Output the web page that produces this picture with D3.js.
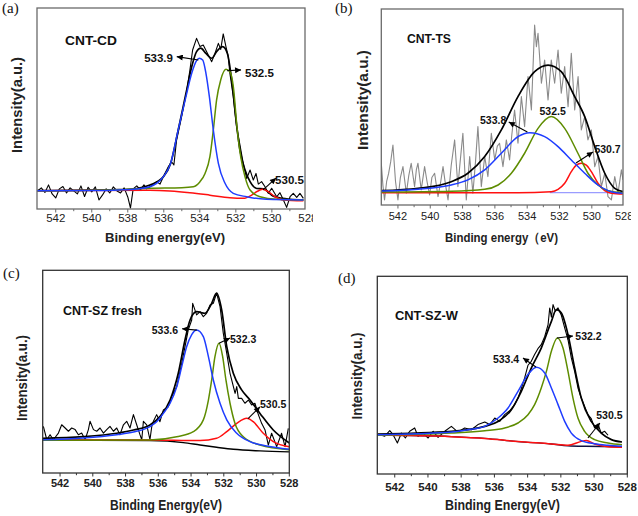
<!DOCTYPE html>
<html><head><meta charset="utf-8">
<script src="https://cdn.jsdelivr.net/npm/d3@7"></script>
<style>body{margin:0;background:#fff}svg{display:block}</style>
</head><body>
<svg id="c" width="638" height="516"></svg>
<script>
// ---------------- DATA (binding energy eV, intensity a.u. 0-100) ----------------
const tickLabels = [542, 540, 538, 536, 534, 532, 530, 528];

// Panel (a) CNT-CD
const aNoise = [[543.0,9.1],[542.8,10.5],[542.6,8.2],[542.4,12.0],[542.2,7.5],[542.0,5.5],[541.8,10.0],[541.6,11.2],[541.4,8.0],[541.2,10.5],[541.0,9.0],[540.8,7.5],[540.6,11.5],[540.4,6.2],[540.2,10.8],[540.0,8.5],[539.8,11.0],[539.6,4.5],[539.4,7.0],[539.2,10.0],[539.0,8.0],[538.8,11.0],[538.6,9.0],[538.4,8.0],[538.2,10.5],[538.0,6.0],[537.85,0.5],[537.7,10.0],[537.5,11.5],[537.3,9.5],[537.1,12.0],[536.95,10.0],[536.77,11.1],[536.40,13.6],[536.21,12.4],[535.94,17.7],[535.75,21.0],[535.57,23.5],[535.44,21.9],[535.29,34.3],[535.01,45.9],[534.73,58.4],[534.55,69.1],[534.4,79.1],[534.18,84.9],[533.99,80.8],[533.81,81.6],[533.53,76.6],[533.34,73.3],[533.16,77.4],[532.97,82.4],[532.84,79.4],[532.70,87.1],[532.55,80.8],[532.42,75.8],[532.33,67.5],[532.14,55.9],[531.96,41.0],[531.77,31.8],[531.59,22.7],[531.4,15.2],[531.21,19.4],[531.03,14.4],[530.88,17.7],[530.75,12.4],[530.57,13.6],[530.38,11.1],[530.2,7.8],[530.01,10.3],[529.73,6.1],[529.55,8.1],[529.36,4.5],[529.18,0.8],[528.99,6.1],[528.81,7.8],[528.62,5.8],[528.44,7.8],[528.25,5.3]];
const aFit = [[543.04,9.1],[538.5,9.6],[537.5,10.2],[536.77,11.9],[536.03,16.0],[535.62,22.7],[535.2,39.3],[534.77,57.5],[534.45,70.8],[534.18,78.3],[533.95,80.0],[533.66,77.4],[533.34,75.0],[533.07,78.3],[532.73,80.8],[532.47,77.4],[532.23,64.2],[531.99,44.3],[531.77,29.3],[531.49,19.4],[531.21,13.6],[530.84,10.2],[530.47,10.0],[529.92,6.4],[528.99,4.8],[528.25,4.5]];
const aBlue = [[543.04,9.1],[540,9.2],[538.5,9.5],[537.5,10.0],[536.77,11.1],[536.4,12.8],[536.03,16.0],[535.62,22.7],[535.2,39.3],[534.77,55.9],[534.45,67.5],[534.18,73.8],[534.03,75.0],[533.84,74.1],[533.66,67.5],[533.47,55.9],[533.25,39.3],[532.97,22.7],[532.6,12.8],[532.14,7.8],[531.4,6.1],[530.3,4.8],[528.25,4.5]];
const aGreen = [[543.04,9.1],[538.5,9.6],[536.77,10.3],[535.0,10.6],[534.36,11.1],[533.99,13.6],[533.71,17.7],[533.44,26.0],[533.25,39.3],[533.07,54.2],[532.84,64.2],[532.55,69.5],[532.33,68.3],[532.14,60.9],[531.92,39.3],[531.73,26.0],[531.49,16.0],[531.21,9.45],[530.66,6.1],[529.73,4.8],[528.25,4.5]];
const aRed = [[543.04,9.1],[536.77,9.3],[535.66,8.95],[534.55,8.1],[533.44,6.9],[532.33,5.6],[531.58,5.3],[531.12,6.9],[530.84,8.6],[530.51,9.8],[530.2,8.6],[529.82,6.1],[529.36,4.5],[528.25,4.1]];

// Panel (b) CNT-TS
const bNoise = [[543.03,21.3],[542.93,10.0],[542.83,2.6],[542.7,12.0],[542.58,16.0],[542.45,22.0],[542.31,30.6],[542.15,12.0],[542.0,2.6],[541.85,14.0],[541.69,19.6],[541.48,6.0],[541.33,15.0],[541.18,21.3],[540.97,9.4],[540.86,18.0],[540.76,21.3],[540.56,7.7],[540.35,19.6],[540.2,12.0],[540.04,5.1],[539.9,14.0],[539.73,16.2],[539.52,4.3],[539.35,12.0],[539.21,19.6],[539.05,10.0],[538.9,2.6],[538.7,20.4],[538.49,33.2],[538.29,9.4],[538.15,22.0],[537.98,36.6],[537.77,2.6],[537.56,24.7],[537.36,6.0],[537.2,22.0],[537.05,40.0],[536.84,9.4],[536.63,24.7],[536.43,14.5],[536.22,36.6],[536.01,23.0],[535.85,30.0],[535.71,31.5],[535.5,19.6],[535.29,33.2],[535.09,23.0],[534.95,36.0],[534.78,48.5],[534.57,31.5],[534.36,55.3],[534.16,40.0],[533.95,65.5],[533.74,48.5],[533.54,91.8],[533.43,80.8],[533.33,87.6],[533.12,62.1],[532.92,74.0],[532.71,53.6],[532.51,74.0],[532.3,62.1],[532.09,79.1],[531.89,57.0],[531.68,70.6],[531.47,50.2],[531.27,77.4],[531.06,48.5],[530.85,65.5],[530.65,38.3],[530.44,45.1],[530.24,33.2],[530.03,38.3],[529.82,19.6],[529.62,24.7],[529.41,9.4],[529.2,16.2],[529.0,4.3],[528.79,2.6],[528.58,14.5],[528.38,6.0],[528.17,17.9],[528.07,12.8]];
const bFit = [[543.03,7.3],[540.76,8.5],[538.7,11.9],[537.67,16.2],[536.63,24.7],[535.6,38.3],[534.57,55.3],[533.54,68.0],[532.71,71.4],[531.89,68.0],[531.06,55.3],[530.44,45.1],[529.82,29.8],[529.2,16.2],[528.58,8.5],[528.07,6.8]];
const bBlue = [[543.03,7.1],[540.76,8.0],[538.7,10.2],[537.67,12.8],[536.63,17.9],[535.6,26.4],[534.57,34.9],[533.85,36.9],[532.92,34.9],[532.09,29.8],[531.27,23.0],[530.44,16.2],[529.62,10.2],[528.79,6.8],[528.07,6.0]];
const bGreen = [[543.03,6.6],[538.7,7.0],[536.63,8.0],[535.8,10.2],[534.98,16.2],[534.16,26.4],[533.33,39.1],[532.51,45.1],[531.68,39.1],[530.86,26.4],[530.24,16.2],[529.62,10.2],[529.0,7.3],[528.07,6.3]];
const bRed = [[543.03,6.3],[534.57,6.3],[532.51,6.8],[532.09,8.0],[531.68,11.1],[531.27,17.0],[530.96,20.4],[530.65,21.3],[530.34,20.4],[530.03,17.0],[529.62,11.1],[529.2,7.3],[528.79,6.0],[528.07,5.6]];
const bBase = [[532.6,6.3],[528.07,6.3]];

// Panel (c) CNT-SZ fresh
const cNoise = [[543.02,23.0],[542.81,16.4],[542.61,18.9],[542.41,16.4],[542.1,19.7],[541.9,23.8],[541.69,22.2],[541.49,20.6],[541.29,22.2],[541.08,21.4],[540.88,18.9],[540.68,19.7],[540.47,16.4],[540.27,21.4],[540.17,25.5],[539.96,21.4],[539.76,20.6],[539.56,22.2],[539.35,19.7],[539.15,21.4],[538.95,23.0],[538.74,20.6],[538.54,22.2],[538.34,18.9],[538.13,23.8],[537.93,25.5],[537.73,22.2],[537.52,28.8],[537.32,23.8],[537.12,18.9],[537.01,16.4],[536.91,25.5],[536.71,23.8],[536.51,16.4],[536.4,22.9],[536.3,25.5],[536.1,28.8],[535.9,25.3],[535.69,31.1],[535.39,32.7],[535.18,37.7],[534.88,42.6],[534.57,54.1],[534.37,62.3],[534.17,70.6],[533.96,75.5],[533.9,83.7],[533.66,78.0],[533.45,79.6],[533.25,77.1],[533.05,78.8],[532.84,82.9],[532.64,83.7],[532.44,88.7],[532.23,82.1],[532.03,68.9],[531.82,59.0],[531.62,49.2],[531.31,39.3],[531.21,42.6],[531.11,36.8],[530.91,36.8],[530.71,34.4],[530.5,36.0],[530.3,33.6],[530.1,34.4],[529.89,28.8],[529.69,24.5],[529.48,21.2],[529.28,13.8],[529.08,19.6],[528.77,13.0],[528.47,19.6],[528.26,13.0],[528.06,22.0]];
const cFit = [[543.06,17.1],[540.58,17.9],[538.54,19.6],[537.52,21.2],[536.51,23.7],[535.9,27.8],[535.28,36.0],[534.78,49.2],[534.37,65.6],[534.06,75.5],[533.66,79.6],[533.15,78.8],[532.74,83.7],[532.44,88.7],[532.13,80.4],[531.82,62.3],[531.42,49.2],[530.91,41.0],[530.4,36.0],[529.79,29.4],[528.98,21.2],[528.0,14.8]];
const cBlue = [[543.06,16.4],[540.58,17.3],[538.54,18.9],[537.52,20.2],[536.51,22.9],[536.1,25.3],[535.69,29.4],[535.28,34.4],[534.87,42.6],[534.57,52.5],[534.27,62.3],[533.96,68.3],[533.66,70.6],[533.25,67.3],[532.94,57.4],[532.64,45.9],[532.23,34.4],[531.82,26.2],[531.21,19.6],[530.4,15.5],[529.38,13.3],[528.0,11.7]];
const cGreen = [[543.06,16.1],[536.51,16.3],[534.88,17.9],[533.86,20.4],[533.25,26.2],[532.94,36.0],[532.74,45.9],[532.54,57.4],[532.29,64.0],[532.07,57.4],[531.87,45.9],[531.62,34.4],[531.32,24.5],[530.81,17.9],[529.79,13.8],[528.0,11.5]];
const cRed = [[543.06,16.4],[536.51,16.3],[533.45,16.0],[532.44,17.1],[531.82,20.4],[531.21,24.5],[530.6,27.0],[530.2,25.3],[529.59,19.6],[528.98,15.5],[528.0,13.0]];
const cBase = [[543.06,16.3],[536.51,16.0],[534.47,15.0],[533.45,13.8],[532.44,12.7],[531.42,11.7],[529.79,10.9],[528.0,10.4]];

// Panel (d) CNT-SZ-W
const dNoise = [[543.04,19.5],[542.9,19.9],[542.6,19.1],[542.3,21.9],[542.1,19.9],[541.84,15.7],[541.6,20.7],[541.36,18.2],[541.1,21.6],[540.8,23.3],[540.6,19.1],[540.29,20.7],[539.99,18.2],[539.69,21.6],[539.39,18.5],[538.99,21.6],[538.59,24.1],[538.19,21.2],[537.79,23.3],[537.39,22.4],[536.99,25.0],[536.58,26.3],[536.28,25.0],[535.98,28.3],[535.68,26.6],[535.38,30.0],[535.08,32.0],[534.78,35.1],[534.58,38.4],[534.38,43.2],[534.18,48.6],[533.98,55.0],[533.78,57.0],[533.58,60.4],[533.38,63.4],[533.18,65.4],[532.97,69.6],[532.77,75.5],[532.67,84.0],[532.57,79.3],[532.47,85.7],[532.33,82.3],[532.17,84.0],[531.97,80.3],[531.77,73.9],[531.57,68.0],[531.37,58.7],[531.17,51.9],[530.97,43.5],[530.77,38.4],[530.57,34.2],[530.37,30.0],[530.17,28.0],[529.97,23.3],[529.77,25.3],[529.57,20.7],[529.36,21.6],[529.16,19.6]];
const dFit = [[543.04,20.2],[538.59,21.6],[536.58,24.1],[535.78,26.6],[534.98,32.5],[534.38,41.8],[533.78,53.6],[533.18,63.7],[532.57,77.2],[532.27,83.1],[531.97,81.4],[531.57,70.5],[531.17,53.6],[530.77,38.4],[530.17,26.6],[529.57,20.7],[528.96,17.4],[528.32,16.2]];
const dBlue = [[543.04,19.9],[540.6,20.4],[538.59,21.2],[537.59,22.4],[536.58,24.1],[535.78,28.3],[535.18,33.4],[534.58,41.8],[533.98,50.3],[533.48,54.0],[532.97,51.1],[532.57,43.5],[532.17,35.1],[531.77,26.6],[531.37,20.7],[530.77,16.9],[529.97,15.3],[529.16,14.5],[528.32,14.0]];
const dGreen = [[543.04,19.6],[538.59,20.7],[536.58,21.9],[535.38,23.3],[534.58,25.8],[533.98,30.0],[533.58,35.1],[533.18,43.5],[532.87,51.9],[532.57,62.1],[532.21,68.8],[531.87,63.7],[531.57,51.9],[531.27,38.4],[530.97,28.3],[530.57,21.6],[529.97,17.4],[529.16,15.7],[528.32,14.8]];
const dRed = [[543.04,19.7],[538.59,18.9],[536.58,18.0],[534.58,16.4],[532.57,15.2],[531.57,14.5],[530.77,16.5],[530.47,16.9],[529.97,15.2],[529.16,13.8],[528.32,13.5]];
const dBase = [[543.04,19.7],[538.59,18.9],[536.58,18.0],[534.58,16.4],[532.57,15.2],[531.57,14.3],[530.5,14.0],[528.32,13.8]];

// Peak annotations: label text, label anchor (E,V), arrow tail (E,V) -> head (E,V)
const aPeaks = [{t:'533.9', at:[535.49,73.1], anchor:'end', from:[534.08,74.1], to:[535.28,75.8]},
                {t:'532.5', at:[531.49,65.9], anchor:'start', from:[532.49,68.8], to:[531.71,69.2]},
                {t:'530.5', at:[529.82,12.4], anchor:'start', from:[530.49,9.5], to:[529.77,15.4]}];
const bPeaks = [{t:'533.8', at:[536.92,41.3], anchor:'start', from:[533.99,37.2], to:[535.14,42.3]},
                {t:'532.5', at:[533.24,45.9], anchor:'start'},
                {t:'530.7', at:[529.84,26.5], anchor:'start', from:[530.98,21.4], to:[529.93,27.0]}];
const cPeaks = [{t:'533.6', at:[536.4,68.8], anchor:'start', from:[533.65,70.5], to:[534.55,71.2]},
                {t:'532.3', at:[531.62,64.0], anchor:'start', from:[532.29,64.0], to:[531.62,66.6]},
                {t:'530.5', at:[529.79,32.3], anchor:'start', from:[530.52,26.8], to:[529.79,32.6]}];
const dPeaks = [{t:'532.2', at:[531.13,68.0], anchor:'start', from:[532.23,68.8], to:[531.27,69.8]},
                {t:'533.4', at:[536.09,56.2], anchor:'start', from:[533.5,54.1], to:[534.28,58.7]},
                {t:'530.5', at:[529.87,28.0], anchor:'start', from:[530.37,18.2], to:[529.65,25.8]}];

// ---------------- LAYOUT ----------------
const BLUE = '#1f3dff', GREEN = '#5e8c00', RED = '#ff1010';
const SANS = '"Liberation Sans", Arial, Helvetica, sans-serif';
const SERIF = '"Liberation Serif", "Times New Roman", serif';

const panels = [
  {frame:[37,8,305,209], dom:[543.04,528.16], clipR:313, fc:'#6a6a6a', tb:false, ts:11.5, tbase:222,
   letter:['(a)',2,13], name:['CNT-CD',65,45,13.5,52], ylab:[17,105,14.5,96], xlab:['Binding energy(eV)',165,241.5,12.5,120],
   noise:aNoise, noiseColor:'#000', fit:aFit, blue:aBlue, green:aGreen, red:aRed, peaks:aPeaks, pfs:11.5},
  {frame:[381.3,9,623,205], dom:[543.03,528.07], clipR:631, fc:'#6a6a6a', tb:false, ts:11, tbase:220,
   letter:['(b)',335,13], name:['CNT-TS',407,43,12.5,44], ylab:[363,100,15,100], xlab:['Binding energy（eV)',501.5,241.5,12.5,113],
   noise:bNoise, noiseColor:'#8a8a8a', fit:bFit, blue:bBlue, green:bGreen, red:bRed, base:bBase, baseColor:'#9a9cff', peaks:bPeaks, pfs:10.5},
  {frame:[42.7,270.3,289.3,473], dom:[543.06,528.0], clipR:999, fc:'#333', tb:true, ts:11, tbase:487,
   letter:['(c)',3,278], name:['CNT-SZ fresh',63,315,12.5,79], ylab:[22,378,14,86], xlab:['Binding Energy(eV)',166,510,14,112],
   noise:cNoise, noiseColor:'#000', fit:cFit, blue:cBlue, green:cGreen, red:cRed, base:cBase, baseColor:'#000', peaks:cPeaks, pfs:10.5},
  {frame:[377.3,276.3,627.3,474], dom:[543.05,528.0], clipR:999, fc:'#333', tb:true, ts:11.5, tbase:490.5,
   letter:['(d)',338,283], name:['CNT-SZ-W',395,320,12.7,63], ylab:[357,376,14,87], xlab:['Binding Energy(eV)',502.5,510,14,115],
   noise:dNoise, noiseColor:'#000', fit:dFit, blue:dBlue, green:dGreen, red:dRed, base:dBase, baseColor:'#101040', peaks:dPeaks, pfs:10.5}
];

const svg = d3.select('#c');
const defs = svg.append('defs');
defs.append('marker').attr('id','ah').attr('viewBox','0 0 10 10').attr('refX',10).attr('refY',5)
  .attr('markerWidth',8).attr('markerHeight',6).attr('markerUnits','userSpaceOnUse').attr('orient','auto')
  .append('path').attr('d','M0,0L10,5L0,10Z').attr('fill','#000');

panels.forEach((p,i) => {
  const [x0,y0,x1,y1] = p.frame;
  const x = d3.scaleLinear().domain(p.dom).range([x0,x1]);
  const y = d3.scaleLinear().domain([0,100]).range([y1,y0]);
  const g = svg.append('g');

  defs.append('clipPath').attr('id','pc'+i).append('rect').attr('x',x0).attr('y',y0).attr('width',x1-x0).attr('height',y1-y0);
  defs.append('clipPath').attr('id','tc'+i).append('rect').attr('x',x0-30).attr('y',y1).attr('width',p.clipR-(x0-30)).attr('height',30);

  const line = d3.line().x(d=>x(d[0])).y(d=>y(d[1]));
  const smooth = d3.line().x(d=>x(d[0])).y(d=>y(d[1])).curve(d3.curveMonotoneX);
  const plot = g.append('g').attr('clip-path',`url(#pc${i})`);

  plot.append('path').attr('d', line(p.noise)).attr('fill','none').attr('stroke',p.noiseColor).attr('stroke-width',1.1).attr('stroke-linejoin','round');
  if (p.base) plot.append('path').attr('d', smooth(p.base)).attr('fill','none').attr('stroke',p.baseColor).attr('stroke-width',1.4);
  plot.append('path').attr('d', smooth(p.fit)).attr('fill','none').attr('stroke','#000').attr('stroke-width',1.7);
  plot.append('path').attr('d', smooth(p.red)).attr('fill','none').attr('stroke',RED).attr('stroke-width',1.5);
  plot.append('path').attr('d', smooth(p.green)).attr('fill','none').attr('stroke',GREEN).attr('stroke-width',1.5);
  plot.append('path').attr('d', smooth(p.blue)).attr('fill','none').attr('stroke',BLUE).attr('stroke-width',1.5);

  // frame
  g.append('rect').attr('x',x0).attr('y',y0).attr('width',x1-x0).attr('height',y1-y0)
    .attr('fill','none').attr('stroke',p.fc).attr('stroke-width',1.3);

  // x axis ticks
  const ax = g.append('g').attr('clip-path',`url(#tc${i})`);
  const minor = d3.range(542, 527.5, -1).filter(v => x(v) >= x0-0.5 && x(v) <= x1+0.5);
  minor.forEach(v => {
    const major = tickLabels.includes(v);
    ax.append('line').attr('x1',x(v)).attr('x2',x(v)).attr('y1',y1).attr('y2',y1+(major?3.5:2.2))
      .attr('stroke',p.fc).attr('stroke-width',1);
  });
  tickLabels.forEach(v => {
    ax.append('text').attr('x',x(v)).attr('y',p.tbase).attr('text-anchor','middle')
      .attr('font-family',SANS).attr('font-size',p.ts).attr('font-weight',p.tb?'bold':'normal')
      .attr('fill','#222').text(v);
  });

  // axis titles
  const [xt,xcx,xcy,xfs,xlen] = p.xlab;
  g.append('text').attr('x',xcx).attr('y',xcy).attr('text-anchor','middle').attr('font-family',SANS)
    .attr('font-size',xfs).attr('font-weight','bold').attr('fill','#222')
    .attr('textLength',xlen).attr('lengthAdjust','spacingAndGlyphs').text(xt);
  const [ycx,ycy,yfs,ylen] = p.ylab;
  g.append('text').attr('transform',`translate(${ycx + yfs*0.35},${ycy}) rotate(-90)`).attr('text-anchor','middle')
    .attr('font-family',SANS).attr('font-size',yfs).attr('font-weight','bold').attr('fill','#222')
    .attr('textLength',ylen).attr('lengthAdjust','spacingAndGlyphs').text('Intensity(a.u.)');

  // panel letter & sample name
  g.append('text').attr('x',p.letter[1]).attr('y',p.letter[2]).attr('font-family',SERIF).attr('font-size',15)
    .attr('fill','#111').text(p.letter[0]);
  const [nt,nx,ny,nfs,nlen] = p.name;
  g.append('text').attr('x',nx).attr('y',ny).attr('font-family',SANS).attr('font-size',nfs).attr('font-weight','bold')
    .attr('fill','#111').attr('textLength',nlen).attr('lengthAdjust','spacingAndGlyphs').text(nt);

  // peak annotations
  p.peaks.forEach(k => {
    if (k.from) {
      g.append('line').attr('x1',x(k.from[0])).attr('y1',y(k.from[1])).attr('x2',x(k.to[0])).attr('y2',y(k.to[1]))
        .attr('stroke','#000').attr('stroke-width',1.1).attr('marker-end','url(#ah)');
    }
    g.append('text').attr('x',x(k.at[0])).attr('y',y(k.at[1])).attr('text-anchor',k.anchor)
      .attr('font-family',SANS).attr('font-size',p.pfs).attr('font-weight','bold').attr('fill','#111').text(k.t);
  });
});
</script>
</body></html>
